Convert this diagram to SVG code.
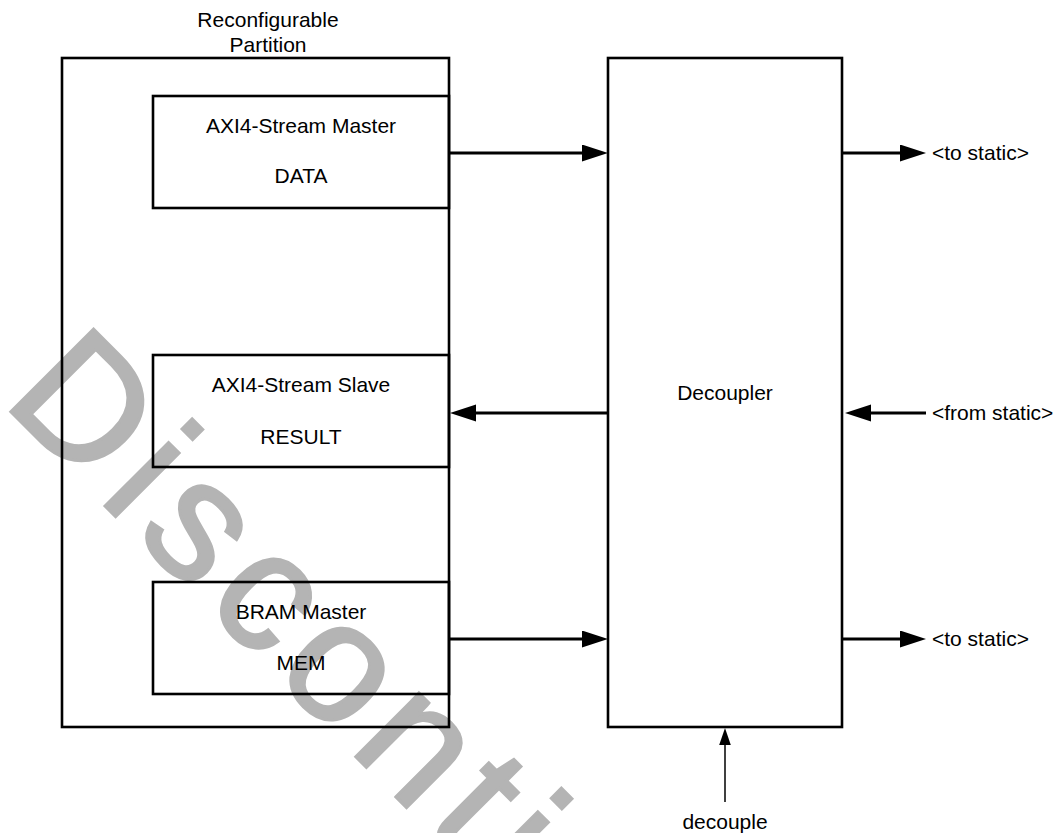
<svg xmlns="http://www.w3.org/2000/svg" width="1054" height="833" viewBox="0 0 1054 833">
  <style>
    .box { fill: none; stroke: #000; stroke-width: 2.6; }
    .lbl { font-family: "Liberation Sans", Arial, sans-serif; font-size: 21px; fill: #000; }
    .mid { text-anchor: middle; }
    .wire { stroke: #000; stroke-width: 3.2; fill: none; }
    .thin { stroke: #000; stroke-width: 1.5; fill: none; }
    .wm { font-family: "Liberation Sans", Arial, sans-serif; font-size: 170px; letter-spacing: 13px; fill: #b4b4b4; stroke: #b4b4b4; stroke-width: 3; }
  </style>
  <defs>
    <marker id="ah" markerUnits="userSpaceOnUse" markerWidth="26" markerHeight="18" refX="16" refY="8.5" orient="auto">
      <path d="M0,0 L26,8.5 L0,17 Z" fill="#000"/>
    </marker>
    <marker id="ahs" markerUnits="userSpaceOnUse" markerWidth="17" markerHeight="12" refX="7" refY="5.8" orient="auto">
      <path d="M0,0 L17,5.8 L0,11.6 Z" fill="#000"/>
    </marker>
  </defs>
  <rect width="1054" height="833" fill="#fff"/>

  <text class="wm" transform="translate(1,402) rotate(45)">Discontinued</text>

  <g id="rp">
    <rect class="box" x="62" y="58" width="387" height="669"/>
    <text class="lbl mid" x="268" y="27">Reconfigurable</text>
    <text class="lbl mid" x="268" y="52">Partition</text>
  </g>
  <g id="data">
    <rect class="box" x="153" y="96" width="296" height="112"/>
    <text class="lbl mid" x="301" y="133">AXI4-Stream Master</text>
    <text class="lbl mid" x="301" y="183">DATA</text>
  </g>
  <g id="result">
    <rect class="box" x="153" y="355" width="296" height="112"/>
    <text class="lbl mid" x="301" y="392">AXI4-Stream Slave</text>
    <text class="lbl mid" x="301" y="444">RESULT</text>
  </g>
  <g id="mem">
    <rect class="box" x="153" y="582" width="296" height="112"/>
    <text class="lbl mid" x="301" y="619">BRAM Master</text>
    <text class="lbl mid" x="301" y="670">MEM</text>
  </g>
  <g id="decoupler">
    <rect class="box" x="608" y="58" width="234" height="669"/>
    <text class="lbl mid" x="725" y="400">Decoupler</text>
  </g>
  <g id="ports">
    <text class="lbl" x="932" y="160">&lt;to static&gt;</text>
    <text class="lbl" x="932" y="420">&lt;from static&gt;</text>
    <text class="lbl" x="932" y="646">&lt;to static&gt;</text>
    <text class="lbl mid" x="725" y="829">decouple</text>
  </g>

  <g id="connectors">
    <line class="wire" x1="450" y1="153" x2="598" y2="153" marker-end="url(#ah)"/>
    <line class="wire" x1="843" y1="153" x2="916" y2="153" marker-end="url(#ah)"/>
    <line class="wire" x1="607" y1="413" x2="460" y2="413" marker-end="url(#ah)"/>
    <line class="wire" x1="926" y1="413" x2="855" y2="413" marker-end="url(#ah)"/>
    <line class="wire" x1="450" y1="639" x2="598" y2="639" marker-end="url(#ah)"/>
    <line class="wire" x1="843" y1="639" x2="916" y2="639" marker-end="url(#ah)"/>
    <line class="thin" x1="725" y1="802" x2="725" y2="738" marker-end="url(#ahs)"/>
  </g>
</svg>
